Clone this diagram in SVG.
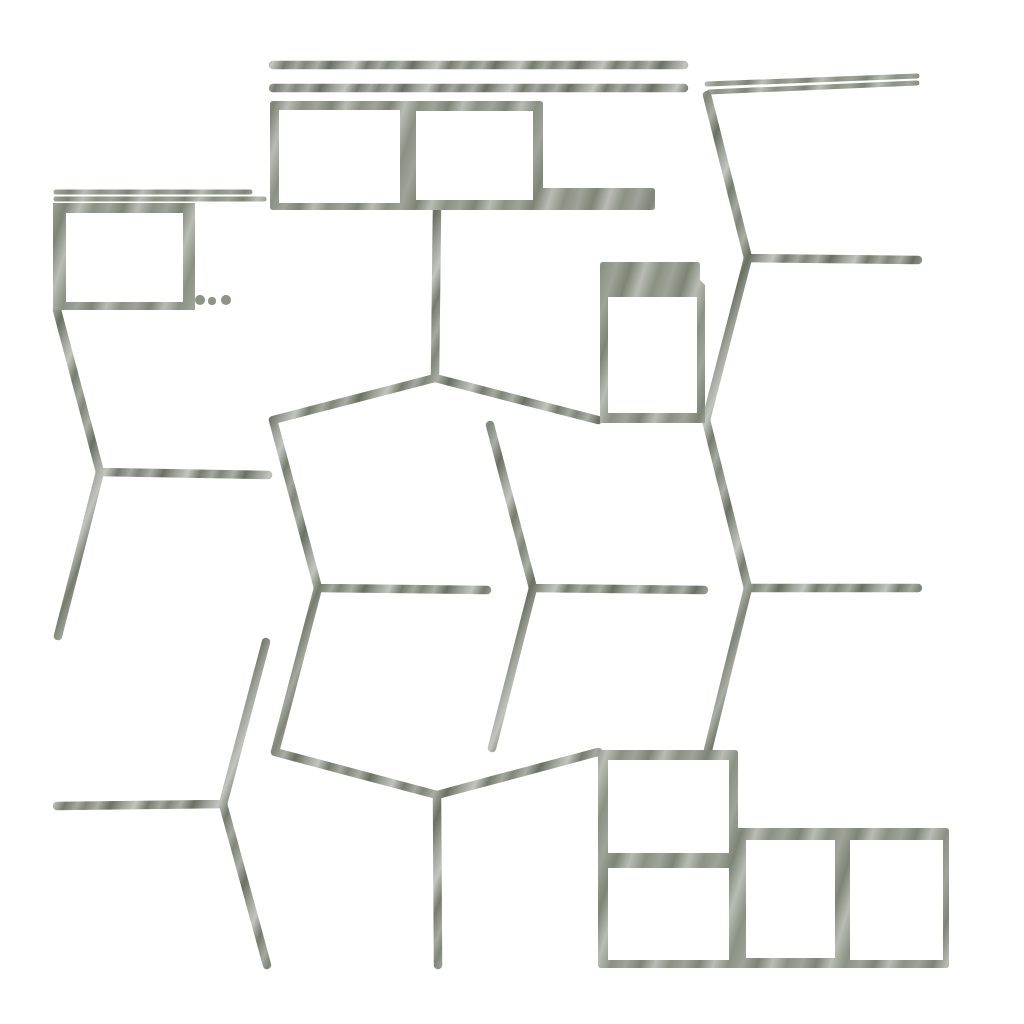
<svg xmlns="http://www.w3.org/2000/svg" width="1024" height="1024" viewBox="0 0 1024 1024">
<defs>
<linearGradient id="tex" gradientUnits="userSpaceOnUse" x1="0" y1="0" x2="71" y2="29" spreadMethod="repeat">
<stop offset="0" stop-color="#80867a"/>
<stop offset="0.15" stop-color="#a9ada4"/>
<stop offset="0.3" stop-color="#6a7062"/>
<stop offset="0.45" stop-color="#9ca097"/>
<stop offset="0.6" stop-color="#c2c4be"/>
<stop offset="0.75" stop-color="#767c6d"/>
<stop offset="0.9" stop-color="#a4a89e"/>
<stop offset="1" stop-color="#80867a"/>
</linearGradient>
<linearGradient id="tex2" gradientUnits="userSpaceOnUse" x1="0" y1="0" x2="53" y2="17" spreadMethod="repeat">
<stop offset="0" stop-color="#9fa399"/>
<stop offset="0.25" stop-color="#7e8476"/>
<stop offset="0.5" stop-color="#b9bcb4"/>
<stop offset="0.75" stop-color="#8b9183"/>
<stop offset="1" stop-color="#9fa399"/>
</linearGradient>
</defs>
<style>
.ln{fill:none;stroke:url(#tex);stroke-width:8.5;stroke-linecap:round;stroke-linejoin:round}
.thin{fill:none;stroke:url(#tex2);stroke-width:5;stroke-linecap:round}
.fr{fill:url(#tex2);fill-rule:evenodd}
</style>
<rect width="1024" height="1024" fill="#ffffff"/>
<g id="connectors">
<line class="ln" x1="273" y1="65" x2="684" y2="65"/>
<line class="ln" x1="273" y1="88" x2="684" y2="88" stroke-width="7"/>
<line class="thin" x1="56" y1="192" x2="250" y2="192"/>
<line class="thin" x1="56" y1="199" x2="264" y2="199"/>
<line class="thin" x1="707" y1="84" x2="917" y2="76"/>
<line class="thin" x1="709" y1="92" x2="917" y2="83"/>
<polyline class="ln" points="707,95 748,258 918,260"/>
<polyline class="ln" points="748,258 706,420"/>
<polyline class="ln" points="706,420 748,588 918,588"/>
<polyline class="ln" points="748,588 708,750"/>
<polyline class="ln" points="437,208 435,378"/>
<polyline class="ln" points="598,420 435,378 273,420 318,588 487,590"/>
<polyline class="ln" points="318,588 275,752 437,795 598,752"/>
<polyline class="ln" points="437,795 438,965"/>
<polyline class="ln" points="490,425 533,588 704,590"/>
<polyline class="ln" points="533,588 492,748"/>
<polyline class="ln" points="57,310 100,472 268,475"/>
<polyline class="ln" points="100,472 58,636"/>
<polyline class="ln" points="266,642 223,804 57,806"/>
<polyline class="ln" points="223,804 267,965"/>
</g>
<g id="frame-top">
<path class="fr" d="M270,104 Q270,101 273,101 L540,101 Q543,101 543,104 L543,188 L652,188 Q655,188 655,191 L655,207 Q655,210 652,210 L273,210 Q270,210 270,207 Z M279,110 H400 V203 H279 Z M416,111 H533 V200 H416 Z"/>
</g>
<g id="frame-left">
<path class="fr" d="M53,203 H195 V310 H53 Z M66,213 H183 V302 H66 Z"/>
<circle cx="200" cy="300" r="5" fill="#8d9385"/>
<circle cx="212" cy="301" r="4" fill="#8d9385"/>
<circle cx="226" cy="300" r="5" fill="#8d9385"/>
</g>
<g id="frame-mid">
<path class="fr" d="M600,265 Q600,262 603,262 H697 Q700,262 700,265 V280 L705,285 V423 H600 Z M608,297 H697 V413 H608 Z"/>
</g>
<g id="frame-bottom">
<path class="fr" d="M598,753 Q598,750 601,750 H735 Q738,750 738,753 V828 H946 Q949,828 949,831 V965 Q949,968 946,968 H601 Q598,968 598,965 Z M608,760 H729 V853 H608 Z M608,868 H729 V960 H608 Z M746,840 H835 V958 H746 Z M850,840 H943 V960 H850 Z"/>
</g>
</svg>
